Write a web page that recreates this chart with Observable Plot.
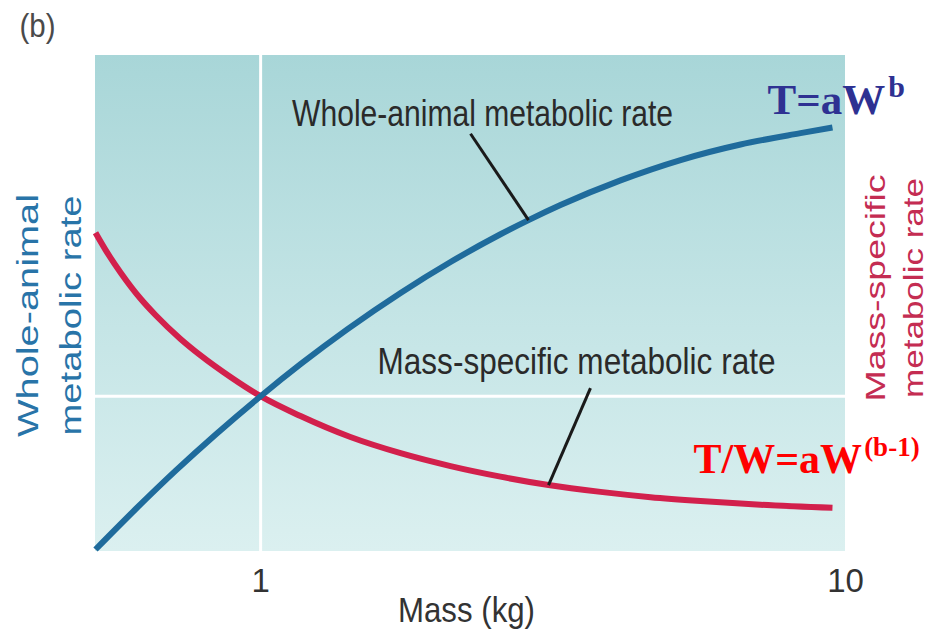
<!DOCTYPE html>
<html><head><meta charset="utf-8">
<script src="https://cdn.jsdelivr.net/npm/d3@7"></script>
<script src="https://cdn.jsdelivr.net/npm/@observablehq/plot@0.6"></script>
<style>
  html, body { margin: 0; padding: 0; background: #fff; }
  #chart { width: 928px; height: 635px; }
</style>
</head><body><div id="chart"></div>
<script>
// ---- data ----
const massTicks = [1, 10];

const wholeMass = [0.522, 0.611, 0.715, 0.837, 1, 1.170, 1.408, 1.735, 2.112, 2.571, 2.871, 3.256, 4.124, 5.224, 6.615, 8.377, 9.5];
const wholeRate = [0.013, 0.272, 0.519, 0.752, 1, 1.206, 1.432, 1.665, 1.864, 2.043, 2.134, 2.231, 2.390, 2.521, 2.621, 2.694, 2.73];

const specMass = [0.522, 0.543, 0.576, 0.623, 0.661, 0.7295, 0.7894, 0.8881, 1, 1.170, 1.424, 1.735, 2.112, 2.571, 3.106, 3.812, 4.641, 5.651, 7.156, 9.5];
const specRate = [2.052, 1.942, 1.797, 1.629, 1.523, 1.369, 1.263, 1.124, 1, 0.872, 0.737, 0.633, 0.550, 0.482, 0.428, 0.384, 0.350, 0.325, 0.301, 0.281];

const curveLabels = ["Whole-animal metabolic rate", "Mass-specific metabolic rate"];
const curveLabelMass = [2.396, 3.468];
const curveLabelRate = [2.742, 1.142];
const leaderFromMass = [2.285, 3.664];
const leaderFromRate = [2.690, 1.052];
const leaderToMass = [2.871, 3.106];
const leaderToRate = [2.134, 0.428];

const formulaMain = ["T=aW", "T/W=aW"];
const formulaSup = ["b", "(b-1)"];
const formulaMass = [7.356, 5.497];
const formulaRate = [2.819, 0.503];

const leftAxisLines = ["Whole-animal", "metabolic rate"];
const rightAxisLines = ["Mass-specific", "metabolic rate"];
const panelLabel = "(b)";
const xAxisTitle = "Mass (kg)";
const refMass = 1, refRate = 1;

// ---- tables ----
const whole = wholeMass.map((m, i) => ({mass: m, rate: wholeRate[i]}));
const spec = specMass.map((m, i) => ({mass: m, rate: specRate[i]}));
const labels = curveLabels.map((t, i) => ({text: t, mass: curveLabelMass[i], rate: curveLabelRate[i]}));
const leaders = leaderFromMass.map((m, i) => ({x1: m, y1: leaderFromRate[i], x2: leaderToMass[i], y2: leaderToRate[i]}));
const formulas = formulaMain.map((t, i) => ({text: t, mass: formulaMass[i], rate: formulaRate[i]}));
const axisCenterRate = 1.52, rightCenterRate = 1.697;

const BLUE = "#1f6b9c", RED = "#d2204c";

const background = (index, scales, values, dimensions) => {
  const {width, height, marginLeft, marginRight, marginTop, marginBottom} = dimensions;
  const g = d3.create("svg:g");
  const grad = g.append("defs").append("linearGradient")
    .attr("id", "bgGrad").attr("x1", 0).attr("y1", 0).attr("x2", 0).attr("y2", 1);
  grad.append("stop").attr("offset", "0%").attr("stop-color", "#a8d6d8");
  grad.append("stop").attr("offset", "55%").attr("stop-color", "#c5e5e6");
  grad.append("stop").attr("offset", "100%").attr("stop-color", "#dbf0f0");
  g.append("rect")
    .attr("x", marginLeft).attr("y", marginTop)
    .attr("width", width - marginLeft - marginRight)
    .attr("height", height - marginTop - marginBottom)
    .attr("fill", "url(#bgGrad)");
  return g.node();
};

const chart = Plot.plot({
  width: 928,
  height: 635,
  marginLeft: 95,
  marginRight: 83,
  marginTop: 55,
  marginBottom: 84,
  style: {fontFamily: "'Liberation Sans', Arial, sans-serif", color: "#333", background: "#fff"},
  x: {type: "log", domain: [0.522, 10]},
  y: {domain: [0, 3.194], axis: null},
  marks: [
    background,
    Plot.ruleX([refMass], {stroke: "#fff", strokeWidth: 3}),
    Plot.ruleY([refRate], {stroke: "#fff", strokeWidth: 3}),
    Plot.line(spec, {x: "mass", y: "rate", stroke: RED, strokeWidth: 6, curve: "monotone-x", strokeLinecap: "butt"}),
    Plot.line(whole, {x: "mass", y: "rate", stroke: BLUE, strokeWidth: 6, curve: "monotone-x", strokeLinecap: "butt"}),
    Plot.link(leaders, {x1: "x1", y1: "y1", x2: "x2", y2: "y2", stroke: "#1a1a1a", strokeWidth: 3}),
    Plot.text(labels, {x: "mass", y: "rate", text: "text", fontSize: 36, fill: "#2a2a2a",
      textAnchor: "middle", lineAnchor: "bottom", className: "curve-label"}),
    Plot.text(formulas, {x: "mass", y: "rate", text: "text", fontSize: 43,
      fill: (d, i) => i === 0 ? "#2e3192" : "#ff0000", textAnchor: "start", lineAnchor: "bottom",
      fontFamily: "'Liberation Serif', 'Times New Roman', serif", fontWeight: "bold", className: "formula"}),
    Plot.axisX(massTicks, {tickSize: 0, tickPadding: 17, fontSize: 33, label: null, tickFormat: d => `${d}`}),
    Plot.text([xAxisTitle], {frameAnchor: "bottom", dx: -4, dy: 70, fontSize: 35, fill: "#333",
      lineAnchor: "bottom", className: "x-title"}),
    Plot.text([panelLabel], {frameAnchor: "top-left", dx: -76, dy: -19, fontSize: 33, fill: "#4a4a4a",
      textAnchor: "start", lineAnchor: "bottom", className: "panel"}),
    Plot.text([leftAxisLines[0]], {frameAnchor: "left", y: () => axisCenterRate, dx: -58, rotate: -90,
      fontSize: 30, fill: "#2874a8", lineAnchor: "bottom", textAnchor: "middle", className: "left-a"}),
    Plot.text([leftAxisLines[1]], {frameAnchor: "left", y: () => axisCenterRate, dx: -15, rotate: -90,
      fontSize: 30, fill: "#2874a8", lineAnchor: "bottom", textAnchor: "middle", className: "left-b"}),
    Plot.text([rightAxisLines[0]], {frameAnchor: "right", y: () => rightCenterRate, dx: 39, rotate: -90,
      fontSize: 28, fill: "#c42c52", lineAnchor: "bottom", textAnchor: "middle", className: "right-a"}),
    Plot.text([rightAxisLines[1]], {frameAnchor: "right", y: () => rightCenterRate, dx: 77, rotate: -90,
      fontSize: 28, fill: "#c42c52", lineAnchor: "bottom", textAnchor: "middle", className: "right-b"})
  ]
});

const svg = d3.select(chart);
// condensed (tall) lettering like the original figure
const squeeze = (sel, lengths) => svg.selectAll(sel).each(function(d, i) {
  if (lengths[i] != null) d3.select(this).attr("textLength", lengths[i]).attr("lengthAdjust", "spacingAndGlyphs");
});
squeeze("g.curve-label text", [381, 398]);
squeeze("g.x-title text", [137]);
squeeze("g.panel text", [36]);
squeeze("g.left-a text", [243]);
squeeze("g.left-b text", [240]);
squeeze("g.right-a text", [227]);
squeeze("g.right-b text", [220]);
// superscripts of the formulas
const supStyle = [{dx: 3, dy: -17, size: 30}, {dx: 2, dy: -17, size: 27}];
svg.selectAll("g.formula text").each(function(d, i) {
  const t = d3.select(this);
  if (i === 1) t.attr("font-size", 42);
  t.append("tspan").attr("dx", supStyle[i].dx).attr("dy", supStyle[i].dy)
    .attr("font-size", supStyle[i].size).text(formulaSup[i]);
});

document.getElementById("chart").appendChild(chart);
</script>
</body></html>
